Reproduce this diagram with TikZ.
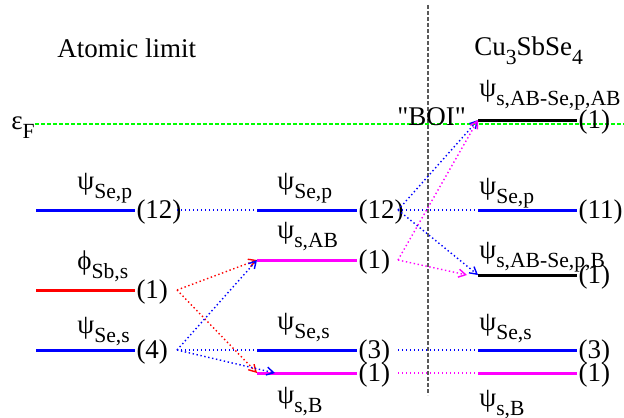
\documentclass[tikz,border=0pt]{standalone}
\usepackage{fontspec}
\setmainfont{Liberation Serif}[Ligatures=TeXOff]
\usetikzlibrary{arrows.meta}
\definecolor{mag}{RGB}{255,0,255}
\definecolor{fermi}{RGB}{0,255,0}
\definecolor{pblue}{RGB}{0,0,255}
\newcommand{\lsub}[1]{\raisebox{-4.5pt}{\fontsize{10.8}{13}\selectfont #1}}
\tikzset{
  level/.style={line width=1.5pt},
  count/.style={anchor=west, inner sep=0pt, yshift=-1pt, text=black},
  lbl/.style={anchor=base west, inner sep=0pt},
  hop/.style={line width=0.7pt, dash pattern=on 0.7pt off 1.3pt},
  >={Straight Barb[length=3.5pt,width=4pt]}
}

\begin{document}
\begin{tikzpicture}[x=0.5pt,y=-0.5pt, font=\fontsize{13.5}{16}\selectfont]
    \useasboundingbox (0,0) rectangle (624,417);
    % Fermi level and divider
    \draw[fermi, line width=0.6pt, dash pattern=on 2pt off 1pt] (35,124) -- (624,124);
    \draw[gray!70!black, line width=0.6pt, dash pattern=on 2pt off 1pt] (428,5) -- (428,395);
    \node[lbl] (eF) at (11,129) {ε\lsub{F}};
    \node[lbl] (atomic) at (57,58) {Atomic limit};
    \node[lbl] (cusbse) at (474,55) {Cu\lsub{3}SbSe\lsub{4}};
    \node[lbl] (boi) at (397,125) {"BOI"};

    % atomic limit
    \draw[level, pblue] (36,210) -- (135,210) node[count] (Lp) {(12)};
    \node[lbl] (Lp-lbl) at (77,189) {ψ\lsub{Se,p}};
    \draw[level, red] (36,290) -- (135,290) node[count] (Lsb) {(1)};
    \node[lbl] (Lsb-lbl) at (77,269) {ϕ\lsub{Sb,s}};
    \draw[level, pblue] (36,350) -- (135,350) node[count] (Ls) {(4)};
    \node[lbl] (Ls-lbl) at (77,333) {ψ\lsub{Se,s}};
    \coordinate (Lp-o) at (177,210);
    \coordinate (Lsb-o) at (177,290);
    \coordinate (Ls-o) at (177,350);

    % middle column
    \draw[level, pblue] (257,210) coordinate (Mp-w) -- (357,210) node[count] (Mp) {(12)};
    \node[lbl] (Mp-lbl) at (277,189) {ψ\lsub{Se,p}};
    \draw[level, mag] (257,260) coordinate (Mab-w) -- (357,260) node[count] (Mab) {(1)};
    \node[lbl] (Mab-lbl) at (277,238) {ψ\lsub{s,AB}};
    \draw[level, pblue] (257,350) coordinate (Ms-w) -- (357,350) node[count] (Ms) {(3)};
    \node[lbl] (Ms-lbl) at (277,329) {ψ\lsub{Se,s}};
    \draw[level, mag] (257,373) coordinate (Mb-w) -- (357,373) node[count] (Mb) {(1)};
    \node[lbl] (Mb-lbl) at (277,403) {ψ\lsub{s,B}};
    \coordinate (Mb-in) at (275,373);
    \coordinate (Mp-o) at (398,210);
    \coordinate (Mab-o) at (398,260);
    \coordinate (Ms-o) at (398,350);
    \coordinate (Mb-o) at (398,373);

    % Cu3SbSe4
    \draw[level, black] (478,120) coordinate (Rab-w) -- (577,120) node[count] (Rab) {(1)};
    \node[lbl] (Rab-lbl) at (479,97) {ψ\lsub{s,AB-Se,p,AB}};
    \draw[level, pblue] (478,210) coordinate (Rp-w) -- (577,210) node[count] (Rp) {(11)};
    \node[lbl] (Rp-lbl) at (479,194) {ψ\lsub{Se,p}};
    \draw[level, black] (478,275) coordinate (Rabb-w) -- (577,275) node[count] (Rabb) {(1)};
    \node[lbl] (Rabb-lbl) at (479,258) {ψ\lsub{s,AB-Se,p,B}};
    \draw[level, pblue] (478,350) coordinate (Rs-w) -- (577,350) node[count] (Rs) {(3)};
    \node[lbl] (Rs-lbl) at (479,330) {ψ\lsub{Se,s}};
    \draw[level, mag] (478,373) coordinate (RsB-w) -- (577,373) node[count] (RsB) {(1)};
    \node[lbl] (RsB-lbl) at (479,406) {ψ\lsub{s,B}};
    \coordinate (Rabb-in) at (467,275);

    % mixing
    \draw[hop, pblue] (Lp-o) -- (Mp-w);
    \draw[hop, red, ->] (Lsb-o) -- (Mab-w);
    \draw[hop, red, ->] (Lsb-o) -- (Mb-w);
    \draw[hop, pblue, ->] (Ls-o) -- (Mab-w);
    \draw[hop, pblue] (Ls-o) -- (Ms-w);
    \draw[hop, pblue, ->] (Ls-o) -- (Mb-in);
    \draw[hop, pblue, ->] (Mp-o) -- (Rab-w);
    \draw[hop, pblue] (Mp-o) -- (Rp-w);
    \draw[hop, pblue, ->] (Mp-o) -- (Rabb-w);
    \draw[hop, mag, ->] (Mab-o) -- (Rab-w);
    \draw[hop, mag, ->] (Mab-o) -- (Rabb-in);
    \draw[hop, pblue] (Ms-o) -- (Rs-w);
    \draw[hop, mag] (Mb-o) -- (RsB-w);
\end{tikzpicture}
\end{document}
